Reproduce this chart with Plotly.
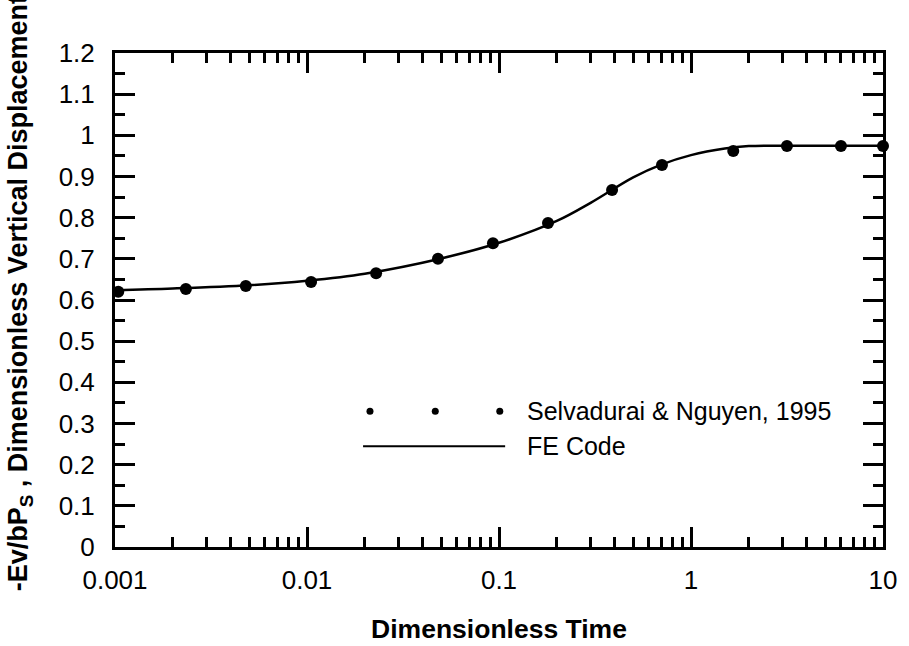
import plotly.graph_objects as go

# Selvadurai & Nguyen (1995) reference solution
ref_time = [0.00104, 0.00234, 0.0048, 0.0105, 0.0229, 0.0481, 0.093, 0.18,
            0.388, 0.706, 1.66, 3.16, 6.04, 10.0]
ref_disp = [0.620, 0.627, 0.634, 0.644, 0.665, 0.700, 0.738, 0.787,
            0.867, 0.928, 0.962, 0.974, 0.974, 0.974]

# FE code result
fe_time = [0.001, 0.002, 0.005, 0.01, 0.02, 0.05, 0.1, 0.2, 0.3, 0.5,
           0.7, 1.0, 1.5, 2.0, 3.0, 5.0, 10.0]
fe_disp = [0.624, 0.628, 0.636, 0.647, 0.664, 0.701, 0.739, 0.792, 0.836,
           0.898, 0.929, 0.952, 0.968, 0.974, 0.975, 0.975, 0.975]

x_ticks = [0.001, 0.01, 0.1, 1, 10]
x_tick_text = ["0.001", "0.01", "0.1", "1", "10"]

FONT = "Liberation Sans, Arial, sans-serif"

fig = go.Figure()

fig.add_trace(go.Scatter(
    x=fe_time, y=fe_disp, mode="lines", line=dict(color="black", width=2.5, shape="spline"),
    showlegend=False, cliponaxis=False,
))
fig.add_trace(go.Scatter(
    x=ref_time, y=ref_disp, mode="markers", marker=dict(color="black", size=12),
    showlegend=False, cliponaxis=False,
))

# hand-drawn legend on an overlay axis spanning the plot area
fig.add_trace(go.Scatter(
    x=[0.332, 0.417, 0.501], y=[0.275, 0.275, 0.275], mode="markers",
    marker=dict(color="black", size=7), xaxis="x2", yaxis="y2", showlegend=False,
))
fig.add_trace(go.Scatter(
    x=[0.323, 0.508], y=[0.204, 0.204], mode="lines",
    line=dict(color="black", width=2), xaxis="x2", yaxis="y2", showlegend=False,
))
fig.add_annotation(x=0.534, y=0.275, xref="x2", yref="y2", text="Selvadurai &amp; Nguyen, 1995",
                   showarrow=False, xanchor="left", yanchor="middle",
                   font=dict(family=FONT, size=25, color="black"))
fig.add_annotation(x=0.534, y=0.204, xref="x2", yref="y2", text="FE Code",
                   showarrow=False, xanchor="left", yanchor="middle",
                   font=dict(family=FONT, size=25, color="black"))

# vertical axis title, placed as a rotated annotation
fig.add_annotation(x=-0.124, y=0.513, xref="paper", yref="paper",
                   text="<b>-Ev/bP<sub>S</sub> , Dimensionless Vertical Displacement</b>",
                   textangle=-90, showarrow=False, xanchor="center", yanchor="middle",
                   font=dict(family=FONT, size=27, color="black"))

axis_common = dict(
    showline=True, linecolor="black", linewidth=3, mirror="ticks",
    ticks="inside", tickcolor="black", tickwidth=2.5, ticklen=20,
    showgrid=False, zeroline=False, automargin=False,
    tickfont=dict(family=FONT, size=26, color="black"),
)

fig.update_layout(
    width=909, height=646,
    margin=dict(l=115, r=26, t=53, b=99),
    paper_bgcolor="white", plot_bgcolor="white",
    font=dict(family=FONT, color="black"),
    xaxis=dict(
        type="log", range=[-3, 1], tickvals=x_ticks, ticktext=x_tick_text,
        minor=dict(ticks="inside", ticklen=10, tickwidth=2.5, tickcolor="black", dtick="D1"),
        title=dict(text="<b>Dimensionless Time</b>", font=dict(family=FONT, size=26.5), standoff=26),
        ticklabelstandoff=8,
        **axis_common,
    ),
    yaxis=dict(
        range=[0, 1.2], dtick=0.1, tick0=0,
        minor=dict(ticks="inside", ticklen=10, tickwidth=2.5, tickcolor="black", dtick=0.05),
        ticklabelstandoff=12,
        **axis_common,
    ),
    xaxis2=dict(range=[0, 1], overlaying="x", visible=False),
    yaxis2=dict(range=[0, 1], overlaying="y", visible=False),
)

fig.write_html("out.html")
